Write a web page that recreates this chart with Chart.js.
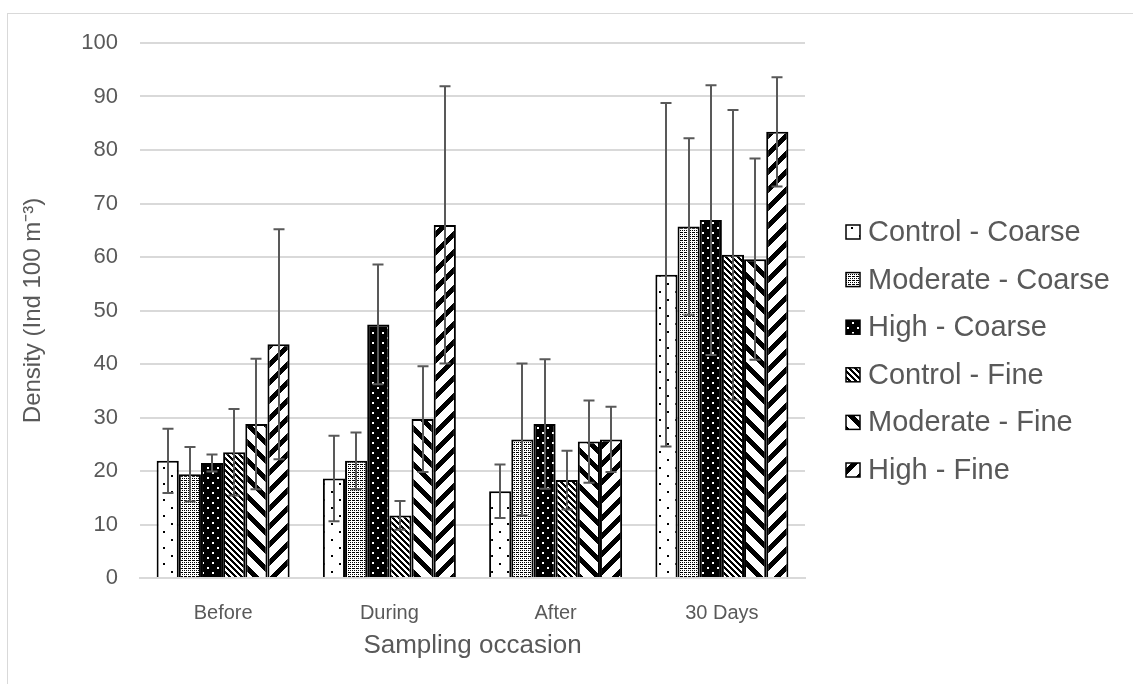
<!DOCTYPE html>
<html>
<head>
<meta charset="utf-8">
<script src="https://cdn.jsdelivr.net/npm/chart.js@4.4.1/dist/chart.umd.min.js"></script>
<style>
  html, body { margin: 0; padding: 0; background: #fff; }
  #frame { position: absolute; left: 7px; top: 13px; width: 1140px; height: 700px; border-left: 1px solid #d9d9d9; border-top: 1px solid #d9d9d9; }
  #wrap { position: absolute; left: 0; top: 0; width: 1133px; height: 684px; }
</style>
</head>
<body>
<div id="frame"></div>
<div id="wrap"><canvas id="density-chart" width="1133" height="684"></canvas></div>
<script>
// 채취 시기
const occasions = ['Before', 'During', 'After', '30 Days'];

// 처리구별 평균 밀도 (Ind 100 m-3)
const controlCoarse = [21.9, 18.6, 16.2, 56.7];
const moderateCoarse = [19.4, 21.9, 25.9, 65.7];
const highCoarse = [21.5, 47.4, 28.8, 66.9];
const controlFine = [23.5, 11.7, 18.3, 60.4];
const moderateFine = [28.8, 29.7, 25.5, 59.6];
const highFine = [43.7, 66.0, 25.9, 83.4];

// 오차 막대 (±)
const controlCoarseErr = [6.0, 8.0, 5.0, 32.1];
const moderateCoarseErr = [5.1, 5.3, 14.2, 16.5];
const highCoarseErr = [1.6, 11.2, 12.1, 25.2];
const controlFineErr = [8.1, 2.7, 5.5, 27.1];
const moderateFineErr = [12.2, 9.9, 7.7, 18.8];
const highFineErr = [21.5, 25.9, 6.1, 10.2];

const yTicks = [0, 10, 20, 30, 40, 50, 60, 70, 80, 90, 100];

const textColor = '#595959';
const gridColor = '#d9d9d9';
const fontFamily = '"Liberation Sans", Arial, sans-serif';

const canvas = document.getElementById('density-chart');
const ctx = canvas.getContext('2d');

// 흑백 패턴 만들기
function makePattern(w, h, bg, fg, isOn) {
  const c = document.createElement('canvas');
  c.width = w;
  c.height = h;
  const g = c.getContext('2d');
  g.fillStyle = bg;
  g.fillRect(0, 0, w, h);
  g.fillStyle = fg;
  for (let y = 0; y < h; y++) {
    for (let x = 0; x < w; x++) {
      if (isOn(x, y)) g.fillRect(x, y, 1, 1);
    }
  }
  return ctx.createPattern(c, 'repeat');
}

const mod = (a, n) => ((a % n) + n) % n;

const patterns = [
  // 성긴 점
  makePattern(16, 16, '#fff', '#000', (x, y) =>
    (x >= 3 && x < 5 && y >= 3 && y < 5) || (x >= 11 && x < 13 && y >= 11 && y < 13)),
  // 촘촘한 점
  makePattern(4, 4, '#fff', '#000', (x, y) => x % 2 === 0 && y % 2 === 0 || (x === 1 && y === 0)),
  // 검정 바탕 흰 점
  makePattern(10, 10, '#000', '#fff', (x, y) =>
    (x >= 2 && x < 4 && y >= 2 && y < 4) || (x >= 7 && x < 9 && y >= 7 && y < 9)),
  // 가는 하향 사선
  makePattern(6, 6, '#fff', '#000', (x, y) => mod(x - y, 6) < 3),
  // 굵은 하향 사선
  makePattern(18, 18, '#fff', '#000', (x, y) => mod(x - y, 18) < 7),
  // 굵은 상향 사선
  makePattern(18, 18, '#fff', '#000', (x, y) => mod(x + y, 18) < 7)
];

const labels = ['Control - Coarse', 'Moderate - Coarse', 'High - Coarse', 'Control - Fine', 'Moderate - Fine', 'High - Fine'];
const values = [controlCoarse, moderateCoarse, highCoarse, controlFine, moderateFine, highFine];
const errors = [controlCoarseErr, moderateCoarseErr, highCoarseErr, controlFineErr, moderateFineErr, highFineErr];

const datasets = labels.map((label, i) => ({
  label: label,
  data: values[i],
  errors: errors[i],
  backgroundColor: patterns[i],
  borderColor: '#000',
  borderWidth: 2,
  categoryPercentage: 0.8,
  barPercentage: 1.0
}));

// 오차 막대 그리기
const errorBarPlugin = {
  id: 'errorBars',
  afterDatasetsDraw(chart) {
    const c = chart.ctx;
    const yScale = chart.scales.y;
    c.save();
    c.strokeStyle = '#595959';
    c.lineWidth = 2;
    chart.data.datasets.forEach((ds, i) => {
      const meta = chart.getDatasetMeta(i);
      meta.data.forEach((bar, j) => {
        const v = ds.data[j];
        const e = ds.errors[j];
        const top = yScale.getPixelForValue(v + e);
        const bottom = yScale.getPixelForValue(v - e);
        const x = Math.round(bar.x);
        c.beginPath();
        c.moveTo(x, top);
        c.lineTo(x, bottom);
        c.moveTo(x - 5.5, top);
        c.lineTo(x + 5.5, top);
        c.moveTo(x - 5.5, bottom);
        c.lineTo(x + 5.5, bottom);
        c.stroke();
      });
    });
    c.restore();
  }
};

// 오른쪽 범례
const legendPlugin = {
  id: 'sideLegend',
  afterDraw(chart) {
    const c = chart.ctx;
    const x0 = 846;
    const y0 = 232;
    const step = 47.6;
    const box = 14;
    c.save();
    c.font = '29px ' + fontFamily;
    c.textBaseline = 'middle';
    c.textAlign = 'left';
    chart.data.datasets.forEach((ds, i) => {
      const y = y0 + i * step;
      c.fillStyle = ds.backgroundColor;
      c.fillRect(x0, y - box / 2, box, box);
      c.strokeStyle = '#000';
      c.lineWidth = 1.5;
      c.strokeRect(x0, y - box / 2, box, box);
      c.fillStyle = textColor;
      c.fillText(ds.label, x0 + box + 8, y + 1);
    });
    c.restore();
  }
};

const chart = new Chart(ctx, {
  type: 'bar',
  data: {
    labels: occasions,
    datasets: datasets
  },
  options: {
    responsive: false,
    animation: false,
    layout: {
      padding: { left: 0, top: 43, right: 328, bottom: 0 }
    },
    plugins: {
      legend: { display: false },
      tooltip: { enabled: false }
    },
    scales: {
      x: {
        grid: { display: false },
        border: { display: true, color: gridColor, width: 2 },
        ticks: {
          color: textColor,
          font: { family: fontFamily, size: 20 },
          padding: 15
        },
        title: {
          display: true,
          text: 'Sampling occasion',
          color: textColor,
          font: { family: fontFamily, size: 26 },
          padding: { top: 0, bottom: 23 }
        },
        afterFit(scale) { scale.height = 106; }
      },
      y: {
        min: 0,
        max: 100,
        afterBuildTicks(scale) {
          scale.ticks = yTicks.map(v => ({ value: v }));
        },
        grid: { color: gridColor, lineWidth: 2, drawTicks: false },
        border: { display: false },
        ticks: {
          color: textColor,
          font: { family: fontFamily, size: 22 },
          padding: 22
        },
        title: {
          display: true,
          text: 'Density (Ind 100 m⁻³)',
          color: textColor,
          font: { family: fontFamily, size: 24 },
          padding: { top: 19, bottom: 0 }
        },
        afterFit(scale) { scale.width = 140; }
      }
    }
  },
  plugins: [errorBarPlugin, legendPlugin]
});
</script>
</body>
</html>
